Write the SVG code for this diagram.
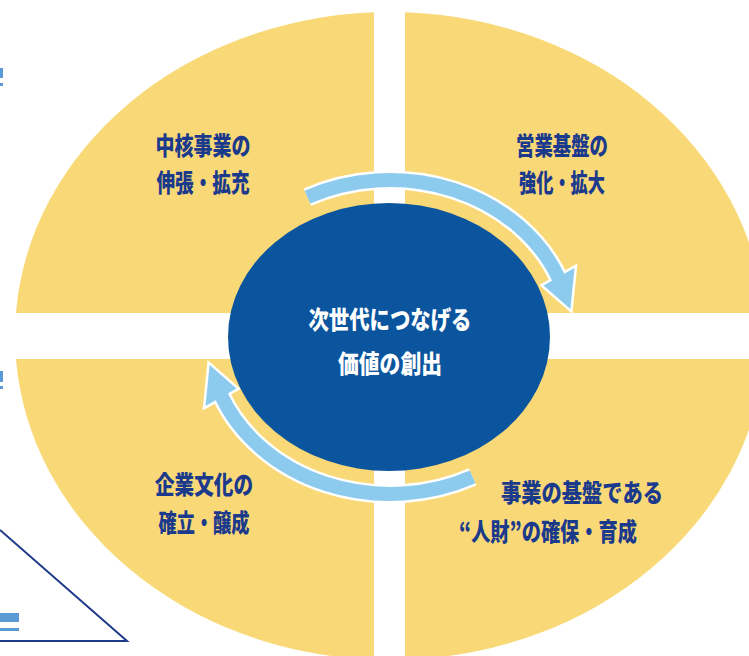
<svg xmlns="http://www.w3.org/2000/svg" width="749" height="656" viewBox="0 0 749 656">
<style>
.q{fill:#f9d977}
.t{font-family:"Noto Sans CJK JP","Noto Sans",sans-serif;font-weight:900;font-size:25px;fill:#1c3a8c}
.c{text-anchor:middle}
.w{fill:#ffffff}
.mark{fill:#5b9bd5}
.arcW{fill:none;stroke:#ffffff;stroke-width:19}
.arcB{fill:none;stroke:#8dcbee;stroke-width:14}
.headW{fill:#8dcbee;stroke:#ffffff;stroke-width:5;stroke-linejoin:miter}
.headB{fill:#8dcbee}
</style>
<rect width="749" height="656" fill="#ffffff"/>
<g id="node-core-business">
<path class="q" d="M374,12.3 L374,313 L15.95,313 A375,324 0 0,1 374,12.3 Z"/>
<text class="t c" x="203" y="155" textLength="95" lengthAdjust="spacingAndGlyphs">中核事業の</text>
<text class="t c" x="203" y="192" textLength="93" lengthAdjust="spacingAndGlyphs">伸張・拡充</text>
</g>
<g id="node-sales-base">
<path class="q" d="M405,12.3 A375,324 0 0,1 764.05,313 L405,313 Z"/>
<text class="t c" x="562" y="155" textLength="92" lengthAdjust="spacingAndGlyphs">営業基盤の</text>
<text class="t c" x="562" y="192" textLength="86" lengthAdjust="spacingAndGlyphs">強化・拡大</text>
</g>
<g id="node-human-resources">
<path class="q" d="M405,359 L764.05,359 A375,324 0 0,1 405,659.7 Z"/>
<text class="t" x="501" y="502" textLength="162" lengthAdjust="spacingAndGlyphs">事業の基盤である</text>
<text class="t" x="459" y="541" textLength="178" lengthAdjust="spacingAndGlyphs">“人財”の確保・育成</text>
</g>
<g id="node-corporate-culture">
<path class="q" d="M374,359 L374,659.7 A375,324 0 0,1 15.95,359 Z"/>
<text class="t c" x="204" y="494" textLength="98" lengthAdjust="spacingAndGlyphs">企業文化の</text>
<text class="t c" x="204" y="532" textLength="91" lengthAdjust="spacingAndGlyphs">確立・醸成</text>
</g>
<g id="node-center">
<ellipse cx="389" cy="337" rx="161" ry="134" fill="#0b559e"/>
<text class="t c w" x="390" y="329" textLength="163" lengthAdjust="spacingAndGlyphs">次世代につなげる</text>
<text class="t c w" x="390" y="373" textLength="104" lengthAdjust="spacingAndGlyphs">価値の創出</text>
</g>
<g id="connectors">
<g id="arrow-top">
<path class="arcW" d="M307.4,197.1 A182,157 0 0,1 558.7,278.2"/>
<polygon class="headW" points="574.5,268 543.5,285.5 570.4,309"/>
<path class="arcB" d="M307.4,197.1 A182,157 0 0,1 558.7,278.2"/>
<polygon class="headB" points="574.5,268 543.5,285.5 570.4,309"/>
</g>
<g id="arrow-bottom" transform="rotate(180 390 337)">
<path class="arcW" d="M307.4,197.1 A182,157 0 0,1 558.7,278.2"/>
<polygon class="headW" points="574.5,268 543.5,285.5 570.4,309"/>
<path class="arcB" d="M307.4,197.1 A182,157 0 0,1 558.7,278.2"/>
<polygon class="headB" points="574.5,268 543.5,285.5 570.4,309"/>
</g>
</g>
<g id="edge-marks">
<rect class="mark" x="0" y="68" width="3" height="10"/>
<rect class="mark" x="0" y="83" width="3" height="3"/>
<rect class="mark" x="0" y="371" width="3" height="11"/>
<rect class="mark" x="0" y="386" width="3" height="3"/>
<rect class="mark" x="0" y="613" width="19" height="9"/>
<rect class="mark" x="0" y="628" width="19" height="3"/>
<polyline points="0,530 127,641 0,641" fill="none" stroke="#1f3a8a" stroke-width="2"/>
</g>
</svg>
